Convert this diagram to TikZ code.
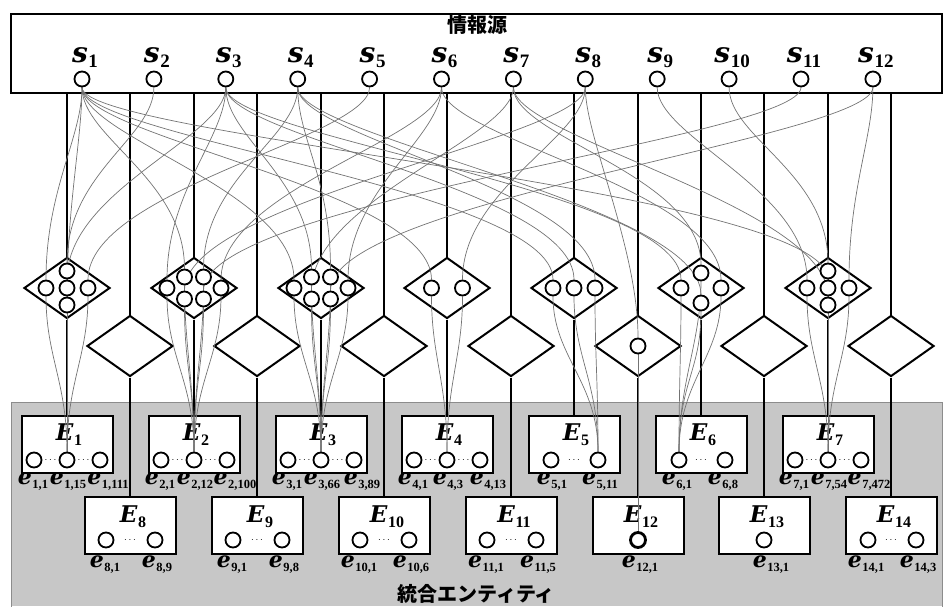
\documentclass[tikz,border=0pt]{standalone}
\usepackage{fontspec}
\newfontfamily\jpfont{Noto Sans CJK JP}
\newfontfamily\lbfont{DejaVu Serif}
\newfontfamily\subfont{Liberation Serif}
\usetikzlibrary{shapes.geometric}

% letter with a lowered index: #1 letter, #2 index, #3 index size, #4 drop
\newcommand\lbl[4]{{\lbfont\bfseries\itshape #1}\kern0.6pt\raisebox{-#4}{\fontsize{#3}{#3}\selectfont\subfont\bfseries #2}}

\pgfdeclarelayer{back}
\pgfdeclarelayer{mid}
\pgfsetlayers{back,mid,main}

\tikzset{
  box/.style={draw, line width=2pt, fill=white, minimum width=91pt, minimum height=57pt, inner sep=0pt},
  dia/.style={draw, diamond, line width=2pt, fill=white, minimum width=86pt, minimum height=61pt, inner sep=0pt},
  ring/.style={draw, circle, line width=1.8pt, minimum size=15pt, inner sep=0pt, fill=white},
  bus/.style={line width=2.2pt},
  link/.style={black!55, line width=0.7pt},
  slab/.style={font=\fontsize{28}{30}\selectfont, inner sep=0pt, anchor=base},
  Elab/.style={font=\fontsize{23}{26}\selectfont, inner sep=0pt, anchor=base},
  elab/.style={font=\fontsize{22}{24}\selectfont, inner sep=0pt, anchor=base},
  jlab/.style={font=\fontsize{20}{24}\selectfont\jpfont\bfseries, inner sep=0pt},
  dotsl/.style={font=\fontsize{10}{12}\selectfont, inner sep=0pt},
}
\newcommand\slbl[1]{\lbl{s}{#1}{19}{5pt}}
\newcommand\Elbl[1]{\lbl{E}{#1}{16}{5pt}}
\newcommand\elbl[1]{\lbl{e}{#1}{12.5}{4.5pt}}

\begin{document}
\begin{tikzpicture}[x=1pt, y=1pt]
\useasboundingbox (0,0) rectangle (944,606);

\begin{pgfonlayer}{back}
% integrated entities
\fill[black!22] (11,0) rectangle (942,204);
\draw[black!45, line width=0.8pt] (11,-1) -- (11,204) -- (942,204) -- (942,-1);
\node[jlab] (tE) at (476,12) {統合エンティティ};

% information sources
\node[draw, line width=1.8pt, fill=white, minimum width=931pt, minimum height=79pt, inner sep=0pt] (src) at (476.5,552.5) {};
\node[jlab] (tS) at (477,581) {情報源};
\foreach \k in {1,...,12}
  \node[slab] (ls\k) at (82+\k*71.9-71.9+3,543) {\slbl{\k}};

% diamonds and entity boxes
\foreach \n/\x in {1/67,2/194,3/321,4/447,5/574,6/701,7/828}{
  \node[dia] (D\n) at (\x,318) {};
  \node[box] (E\n) at (\x,162) {};
  \node[Elab] (lE\n) at (\x+2,166) {\Elbl{\n}};
  \draw[bus] (D\n.north |- src.south) -- (D\n.north) (D\n.south) -- (E\n.north);
}
\foreach \n/\x in {8/130,9/257,10/384,11/511,12/638,13/764,14/891}{
  \node[dia] (D\n) at (\x,260) {};
  \node[box] (E\n) at (\x,81) {};
  \node[Elab] (lE\n) at (\x+3,84) {\Elbl{\n}};
  \draw[bus] (D\n.north |- src.south) -- (D\n.north) (D\n.south) -- (E\n.north);
}

% entity labels
\foreach \n/\x/\a/\b/\c in {1/67/{1,1}/{1,15}/{1,111}, 2/194/{2,1}/{2,12}/{2,100},
    3/321/{3,1}/{3,66}/{3,89}, 4/447/{4,1}/{4,3}/{4,13}, 7/828/{7,1}/{7,54}/{7,472}}{
  \node[elab] (le\n-l) at (\x-34,122) {\elbl{\a}};
  \node[elab] (le\n-m) at (\x+1,122) {\elbl{\b}};
  \node[elab] (le\n-r) at (\x+41,122) {\elbl{\c}};
}
\node[elab] (le5-l) at (552,122) {\elbl{5,1}};
\node[elab] (le5-r) at (600,122) {\elbl{5,11}};
\node[elab] (le6-l) at (677,122) {\elbl{6,1}};
\node[elab] (le6-r) at (723,122) {\elbl{6,8}};
\foreach \n/\x/\a/\b in {8/130/{8,1}/{8,9}, 9/257/{9,1}/{9,8}, 10/384/{10,1}/{10,6},
    11/511/{11,1}/{11,5}, 14/891/{14,1}/{14,3}}{
  \node[elab] (le\n-l) at (\x-25,39) {\elbl{\a}};
  \node[elab] (le\n-r) at (\x+27,39) {\elbl{\b}};
}
\node[elab] (le12-m) at (640,39) {\elbl{12,1}};
\node[elab] (le13-m) at (771,39) {\elbl{13,1}};
\end{pgfonlayer}

% points
\foreach \k in {1,...,12}
  \node[ring] (s\k) at (82+\k*71.9-71.9,527) {};
\foreach \n/\x in {1/67,2/194,3/321,4/447,7/828}{
  \node[ring] (e\n-l) at (\x-33,146) {};
  \node[ring] (e\n-m) at (\x,146) {};
  \node[ring] (e\n-r) at (\x+33,146) {};
  \node[dotsl] (dl\n) at (\x-16.5,146) {$\cdots$};
  \node[dotsl] (dr\n) at (\x+16.5,146) {$\cdots$};
}
\foreach \n/\x/\y/\u/\v in {5/574/146/23/24, 6/701/146/22/24, 8/130/66/24/25, 9/257/66/24/25,
    10/384/66/24/25, 11/511/66/24/25, 14/891/66/23/25}{
  \node[ring] (e\n-l) at (\x-\u,\y) {};
  \node[ring] (e\n-r) at (\x+\v,\y) {};
  \node[dotsl] (dm\n) at (\x,\y) {$\cdots$};
}
\node[ring, line width=2.8pt] (e12-m) at (638,66) {};
\node[ring] (e13-m) at (764,66) {};

\foreach \c/\px/\py in {1a/67/335, 1b/46/318, 1c/67/318, 1d/88/318, 1e/67/301,
    2a/184.5/329, 2b/203.5/329, 2c/167/318, 2d/221/318, 2e/184.5/307, 2f/203.5/307,
    3a/311.5/329, 3b/330.5/329, 3c/294/318, 3d/348/318, 3e/311.5/307, 3f/330.5/307,
    4a/431.5/318, 4b/462.5/318,
    5a/553/318, 5b/574/318, 5c/595/318,
    6a/701/333, 6b/681/318, 6c/721/318, 6d/701/303,
    7a/828/335, 7b/807/318, 7c/828/318, 7d/849/318, 7e/828/301,
    12a/638/260}
  \node[ring] (c\c) at (\px,\py) {};

% links source -> diamond point -> entity
\begin{pgfonlayer}{mid}
\foreach \s/\c/\t in {2/1a/e1-m, 1/1b/e1-m, 3/1c/e1-m, 5/1d/e1-m, 1/1e/e1-m,
    1/2a/e2-m, 4/2b/e2-m, 3/2c/e2-m, 6/2d/e2-m, 8/2e/e2-m, 11/2f/e2-m,
    3/3a/e3-m, 4/3b/e3-m, 1/3c/e3-m, 6/3d/e3-m, 7/3e/e3-m, 12/3f/e3-m,
    1/4a/e4-m, 8/4b/e4-m,
    1/5a/e5-r, 3/5b/e5-r, 4/5c/e5-r,
    7/6a/e6-l, 3/6b/e6-l, 6/6c/e6-l, 4/6d/e6-l,
    10/7a/e7-m, 9/7b/e7-m, 1/7c/e7-m, 12/7d/e7-m, 7/7e/e7-m,
    8/12a/e12-m}{
  \draw[link] (s\s.south) .. controls +(0,-50) and +(0,90) .. (c\c.north);
  \draw[link] (c\c.south) .. controls +(0,-60) and +(0,70) .. (\t.north);
}
\end{pgfonlayer}
\end{tikzpicture}
\end{document}
